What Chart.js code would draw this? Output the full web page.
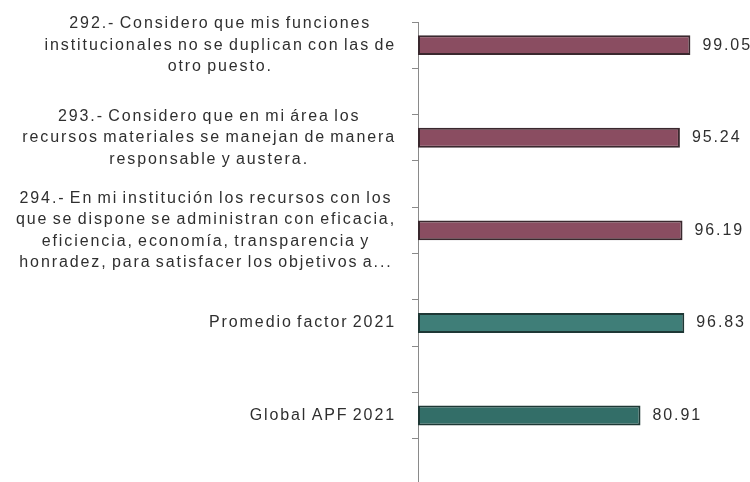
<!DOCTYPE html>
<html>
<head>
<meta charset="utf-8">
<script src="https://cdn.jsdelivr.net/npm/chart.js@4/dist/chart.umd.min.js"></script>
<style>
  html, body { margin: 0; padding: 0; background: #fff; overflow: hidden; }
  .chart-box { position: relative; width: 750px; height: 490px; }
</style>
</head>
<body>
<div class="chart-box"><canvas id="chart"></canvas></div>
<script>
// question labels, one entry per line
const categories = [
  ['292.- Considero que mis funciones', 'institucionales no se duplican con las de', 'otro puesto.'],
  ['293.- Considero que en mi área los', 'recursos materiales se manejan de manera', 'responsable y austera.'],
  ['294.- En mi institución los recursos con los', 'que se dispone se administran con eficacia,', 'eficiencia, economía, transparencia y', 'honradez, para satisfacer los objetivos a...'],
  ['Promedio factor 2021'],
  ['Global APF 2021']
];
const values = [99.05, 95.24, 96.19, 96.83, 80.91];
const fillColors = ['#8a4d61', '#8a4d61', '#8a4d61', '#3f7e78', '#336e68'];
const edgeColors = ['#3a282e', '#3a282e', '#3a282e', '#1e3835', '#1e3835'];

const FONT = '16px "Liberation Sans", Arial, sans-serif';
const LETTER = '1.9px';
const WORD = '-2px';
const LINE = 21.5;

// every question gets its own slot followed by an empty one
const slotLabels = [];
const slotValues = [];
const slotFill = [];
const slotEdge = [];
categories.forEach((c, i) => {
  slotLabels.push(c.join(' '), '');
  slotValues.push(values[i], null);
  slotFill.push(fillColors[i], 'transparent');
  slotEdge.push(edgeColors[i], 'transparent');
});

function setText(ctx) {
  ctx.font = FONT;
  ctx.letterSpacing = LETTER;
  ctx.wordSpacing = WORD;
  ctx.fillStyle = '#2f2f2f';
  ctx.textBaseline = 'middle';
}

const blockLabels = {
  id: 'blockLabels',
  afterDraw(chart) {
    const { ctx, chartArea, scales: { y } } = chart;
    ctx.save();
    setText(ctx);
    ctx.textAlign = 'center';
    categories.forEach((lines, i) => {
      const yc = y.getPixelForValue(i * 2);
      const w = Math.max(...lines.map(l => ctx.measureText(l).width));
      const cx = chartArea.left - 22 - w / 2;
      const top = yc - (lines.length - 1) * LINE / 2;
      lines.forEach((l, k) => ctx.fillText(l, cx, top + k * LINE));
    });
    ctx.restore();
  }
};

const valueLabels = {
  id: 'valueLabels',
  afterDatasetsDraw(chart) {
    const { ctx } = chart;
    const meta = chart.getDatasetMeta(0);
    ctx.save();
    setText(ctx);
    ctx.textAlign = 'left';
    meta.data.forEach((bar, i) => {
      const v = slotValues[i];
      if (v == null) return;
      ctx.fillText(v.toFixed(2), bar.x + 12, bar.y);
    });
    ctx.restore();
  }
};

new Chart(document.getElementById('chart'), {
  type: 'bar',
  data: {
    labels: slotLabels,
    datasets: [{
      data: slotValues,
      backgroundColor: slotFill,
      borderColor: slotEdge,
      borderWidth: 2,
      borderSkipped: false,
      categoryPercentage: 1,
      barPercentage: 0.43
    }]
  },
  options: {
    indexAxis: 'y',
    responsive: true,
    maintainAspectRatio: false,
    animation: false,
    layout: { padding: { left: 412, top: 22, right: 2, bottom: 5 } },
    plugins: {
      legend: { display: false },
      tooltip: { enabled: false }
    },
    scales: {
      x: { type: 'linear', min: 0, max: 120, display: false },
      y: {
        offset: true,
        grid: { drawOnChartArea: false, drawTicks: true, tickLength: 6, color: '#8a8a8a', offset: true },
        border: { display: true, color: '#8a8a8a', width: 1 },
        ticks: { display: false }
      }
    }
  },
  plugins: [blockLabels, valueLabels]
});
</script>
</body>
</html>
